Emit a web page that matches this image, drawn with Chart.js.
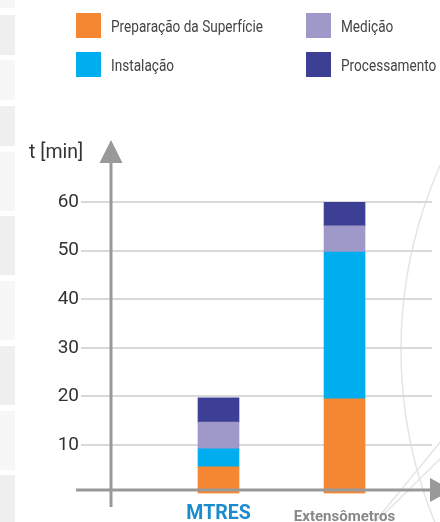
<!DOCTYPE html>
<html><head><meta charset="utf-8">
<script src="https://cdn.jsdelivr.net/npm/chart.js@4"></script>
<style>
html,body{margin:0;padding:0;background:#fff;}
#wrap{position:relative;width:440px;height:522px;overflow:hidden;}
#legend .item{position:absolute;display:flex;align-items:center;height:25px;font:17px Roboto,sans-serif;color:#444;white-space:nowrap;}
#legend .sw{width:25px;height:25px;margin-right:10px;flex:none;}
#legend .tx{display:block;flex:none;transform-origin:0 50%;}
</style></head>
<body><div id="wrap"><canvas id="c" width="440" height="522"></canvas><div id="legend"></div></div>
<script>
const categories = ['MTRES', 'Extensômetros'];
const seriesNames = ['Preparação da Superfície', 'Instalação', 'Medição', 'Processamento'];
const preparacao = [5.5, 19.5];
const instalacao = [3.7, 30.2];
const medicao = [5.5, 5.4];
const processamento = [5.0, 4.9];
const yTicks = [10, 20, 30, 40, 50, 60];
const yTitle = 't [min]';

const FONT = 'Roboto, sans-serif';
const colors = ['#f58733', '#00aeef', '#9e99c9', '#3d3f94'];
const seriesValues = [preparacao, instalacao, medicao, processamento];

const datasets = seriesNames.map((name, k) => ({
  label: name,
  data: categories.map((c, i) => ({ x: i, y: seriesValues[k][i] })),
  backgroundColor: colors[k],
  borderWidth: 0,
  barThickness: 41
}));

const decor = {
  id: 'decor',
  beforeDraw(chart) {
    const ctx = chart.ctx;
    ctx.save();
    const strips = [[0,8,'#f7f7f7'],[15,55,'#efefef'],[60,100,'#f7f7f7'],[106,146,'#efefef'],[152,211,'#f7f7f7'],[216,275,'#efefef'],[281,340,'#f7f7f7'],[346,405,'#efefef'],[411,470,'#f7f7f7'],[475,522,'#efefef']];
    strips.forEach(s => { ctx.fillStyle = s[2]; ctx.fillRect(0, s[0], 15, s[1]-s[0]); });
    ctx.strokeStyle = '#e4e4e4';
    ctx.lineWidth = 1.5;
    ctx.beginPath(); ctx.arc(856, 350, 455, Math.PI*0.6, Math.PI*1.4); ctx.stroke();
    ctx.beginPath(); ctx.moveTo(373, 524); ctx.lineTo(442, 440); ctx.stroke();
    ctx.beginPath(); ctx.moveTo(380, 518); ctx.lineTo(442, 457); ctx.stroke();
    ctx.restore();
  },
  afterDatasetsDraw(chart) {
    const ctx = chart.ctx;
    const ys = chart.scales.y;
    const area = chart.chartArea;
    const y0 = ys.getPixelForValue(0) - 3.5;
    const ax = area.left;
    ctx.save();
    ctx.strokeStyle = '#999';
    ctx.fillStyle = '#999';
    ctx.lineWidth = 3;
    ctx.beginPath(); ctx.moveTo(ax, 158); ctx.lineTo(ax, 507); ctx.stroke();
    ctx.beginPath(); ctx.moveTo(ax, 140); ctx.lineTo(ax - 11.5, 163); ctx.lineTo(ax + 11.5, 163); ctx.closePath(); ctx.fill();
    ctx.beginPath(); ctx.moveTo(76, y0); ctx.lineTo(432, y0); ctx.stroke();
    ctx.beginPath(); ctx.moveTo(452, y0); ctx.lineTo(430, y0 - 12); ctx.lineTo(430, y0 + 12); ctx.closePath(); ctx.fill();
    ctx.fillStyle = '#333';
    ctx.font = '19.5px ' + FONT;
    ctx.textBaseline = 'alphabetic';
    ctx.textAlign = 'left';
    ctx.fillText(yTitle, 29, 158);
    ctx.restore();
  }
};

const chart = new Chart(document.getElementById('c'), {
  type: 'bar',
  data: { datasets },
  options: {
    responsive: false,
    animation: false,
    layout: { padding: { left: 0, top: 202, right: 8, bottom: 0 } },
    plugins: { legend: { display: false }, tooltip: { enabled: false } },
    scales: {
      x: {
        type: 'linear', stacked: true, offset: false, min: -0.853, max: 1.694,
        grid: { display: false, drawTicks: false }, border: { display: false },
        afterBuildTicks: s => { s.ticks = categories.map((c, i) => ({ value: i })); },
        afterFit: s => { s.height = 28.5; },
        ticks: {
          autoSkip: false, maxRotation: 0, padding: 9,
          callback: v => categories[v],
          font: ctx => ctx.index === 0 ? { family: FONT, size: 19.5, weight: 'bold', lineHeight: 1.2 } : { family: FONT, size: 15, weight: 'bold', lineHeight: 2 },
          color: ctx => ctx.index === 0 ? '#1a8bcc' : '#888888'
        }
      },
      y: {
        stacked: true, min: 0, max: 60,
        afterBuildTicks: s => { s.ticks = yTicks.map(v => ({ value: v })); },
        afterFit: s => { s.width = 111; },
        grid: { color: '#d9d9d9', lineWidth: 2, tickLength: 30, tickColor: '#d9d9d9' },
        border: { display: false },
        ticks: { padding: 2, color: '#333', font: { family: FONT, size: 19 } }
      }
    }
  },
  plugins: [decor]
});

// HTML legend in 2 columns; text condensed to the reference's narrow face
const legendOrder = [[0, 76, 13], [2, 306, 13], [1, 76, 52], [3, 306, 52]];
const leg = document.getElementById('legend');
const mctx = document.createElement('canvas').getContext('2d');
mctx.font = '17px Roboto, sans-serif';
const squeeze = Math.min(1, 152 / mctx.measureText(seriesNames[0]).width);
legendOrder.forEach(([k, x, y]) => {
  const d = document.createElement('div');
  d.className = 'item';
  d.style.left = x + 'px'; d.style.top = y + 'px';
  d.innerHTML = '<span class="sw" style="background:' + chart.data.datasets[k].backgroundColor + '"></span><span class="tx" style="transform:scaleX(' + squeeze.toFixed(3) + ')">' + chart.data.datasets[k].label + '</span>';
  leg.appendChild(d);
});
</script>
</body></html>
